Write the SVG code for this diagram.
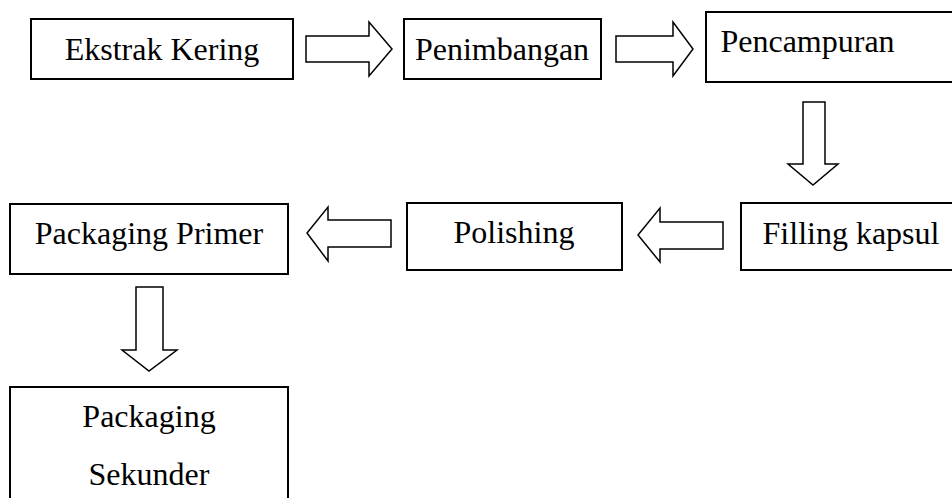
<svg xmlns="http://www.w3.org/2000/svg" width="952" height="498" viewBox="0 0 952 498">
  <style>
    .box { fill: #ffffff; stroke: #000000; stroke-width: 2; }
    .arrow { fill: #ffffff; stroke: #000000; stroke-width: 1.5; stroke-linejoin: miter; }
    .label { font-family: "Liberation Serif", "Times New Roman", serif; font-size: 32px; fill: #000000; text-anchor: middle; }
  </style>
  <rect width="952" height="498" fill="#ffffff"/>

  <!-- process steps -->
  <g id="ekstrak-kering">
    <rect class="box" x="31" y="19" width="262" height="60"/>
    <text class="label" x="162" y="60">Ekstrak Kering</text>
  </g>
  <g id="penimbangan">
    <rect class="box" x="404" y="19" width="197" height="60"/>
    <text class="label" x="502" y="60">Penimbangan</text>
  </g>
  <g id="pencampuran">
    <rect class="box" x="706" y="12" width="260" height="70"/>
    <text class="label" x="807.5" y="52">Pencampuran</text>
  </g>
  <g id="filling-kapsul">
    <rect class="box" x="741" y="203" width="230" height="67"/>
    <text class="label" x="851" y="244">Filling kapsul</text>
  </g>
  <g id="polishing">
    <rect class="box" x="407" y="203" width="215" height="67"/>
    <text class="label" x="514" y="243">Polishing</text>
  </g>
  <g id="packaging-primer">
    <rect class="box" x="10" y="204" width="278" height="70"/>
    <text class="label" x="149" y="244">Packaging Primer</text>
  </g>
  <g id="packaging-sekunder">
    <rect class="box" x="10" y="387" width="278" height="130"/>
    <text class="label" x="149" y="427">Packaging</text>
    <text class="label" x="149" y="485">Sekunder</text>
  </g>

  <!-- block arrows between steps -->
  <g id="connectors">
    <path class="arrow" d="M306,36 H369 V22 L392,49 L369,76 V62 H306 Z"/>
    <path class="arrow" d="M616,36 H673 V22 L693,49 L673,76 V62 H616 Z"/>
    <path class="arrow" d="M803,102 H825 V164 H838 L813,185 L788,164 H803 Z"/>
    <path class="arrow" d="M723,222 H660 V208 L638,235 L660,262 V249 H723 Z"/>
    <path class="arrow" d="M391,220 H328 V207 L307,233 L328,261 V247 H391 Z"/>
    <path class="arrow" d="M136,287 H163 V350 H177 L149,371 L122,350 H136 Z"/>
  </g>
</svg>
